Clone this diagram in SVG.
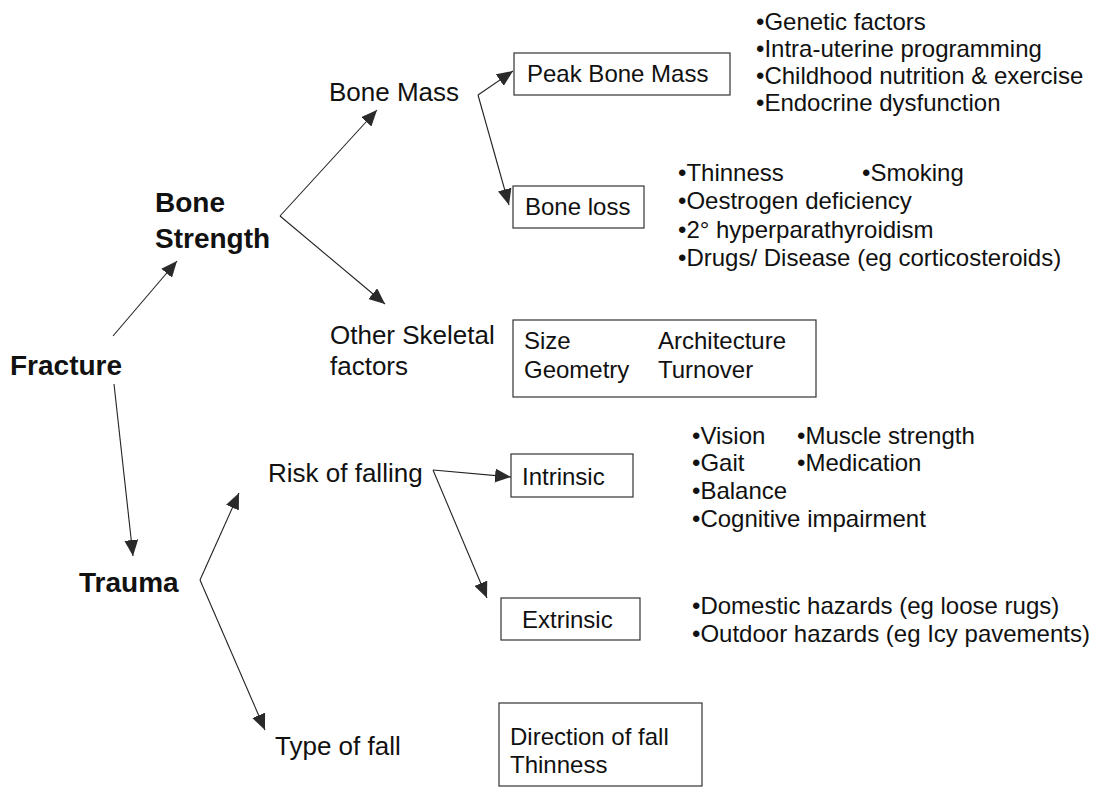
<svg xmlns="http://www.w3.org/2000/svg" width="1098" height="788" viewBox="0 0 1098 788">
  <style>
    text { font-family: "Liberation Sans", Arial, Helvetica, sans-serif; fill: #111; }
    .bold { font-weight: bold; font-size: 28px; }
    .label { font-size: 26px; }
    .box-text { font-size: 24px; }
    .bullet { font-size: 24px; }
    .box { fill: #fff; stroke: #333; stroke-width: 1.2; }
    .conn { stroke: #222; stroke-width: 1.1; fill: none; marker-end: url(#arrow); }
  </style>
  <defs>
    <marker id="arrow" markerUnits="userSpaceOnUse" viewBox="0 0 16 14" refX="16" refY="7" markerWidth="16" markerHeight="14" orient="auto">
      <path d="M0,0 L16,7 L0,14 z" fill="#2a2a2a"/>
    </marker>
  </defs>
  <rect width="1098" height="788" fill="#fff"/>

  <g id="connectors">
    <line class="conn" x1="113" y1="336" x2="177" y2="261"/>
    <line class="conn" x1="114" y1="384" x2="133" y2="556"/>
    <line class="conn" x1="280" y1="216" x2="377" y2="110"/>
    <line class="conn" x1="280" y1="216" x2="385" y2="304"/>
    <line class="conn" x1="478" y1="95" x2="513" y2="71"/>
    <line class="conn" x1="478" y1="95" x2="509" y2="205"/>
    <line class="conn" x1="200" y1="580" x2="239" y2="493"/>
    <line class="conn" x1="200" y1="580" x2="265" y2="730"/>
    <line class="conn" x1="433" y1="470" x2="511" y2="477"/>
    <line class="conn" x1="433" y1="470" x2="487" y2="598"/>
  </g>

  <g id="fracture"><text class="bold" x="10" y="375">Fracture</text></g>
  <g id="bone-strength">
    <text class="bold" x="155" y="212">Bone</text>
    <text class="bold" x="155" y="248">Strength</text>
  </g>
  <g id="trauma"><text class="bold" x="79" y="592">Trauma</text></g>

  <g id="bone-mass"><text class="label" x="329" y="101">Bone Mass</text></g>
  <g id="other-skeletal">
    <text class="label" x="330" y="344">Other Skeletal</text>
    <text class="label" x="330" y="375">factors</text>
  </g>
  <g id="risk-of-falling"><text class="label" x="268" y="482">Risk of falling</text></g>
  <g id="type-of-fall"><text class="label" x="275" y="755">Type of fall</text></g>

  <g id="peak-bone-mass">
    <rect class="box" x="514" y="53" width="216" height="42"/>
    <text class="box-text" x="527" y="82">Peak Bone Mass</text>
  </g>
  <g id="peak-factors">
    <text class="bullet" x="756" y="30">•Genetic factors</text>
    <text class="bullet" x="756" y="57">•Intra-uterine programming</text>
    <text class="bullet" x="756" y="84">•Childhood nutrition &amp; exercise</text>
    <text class="bullet" x="756" y="111">•Endocrine dysfunction</text>
  </g>

  <g id="bone-loss">
    <rect class="box" x="513" y="186" width="131" height="42"/>
    <text class="box-text" x="525" y="215">Bone loss</text>
  </g>
  <g id="bone-loss-factors">
    <text class="bullet" x="678" y="181">•Thinness</text>
    <text class="bullet" x="862" y="181">•Smoking</text>
    <text class="bullet" x="678" y="209">•Oestrogen deficiency</text>
    <text class="bullet" x="678" y="238">•2° hyperparathyroidism</text>
    <text class="bullet" x="678" y="266">•Drugs/ Disease (eg corticosteroids)</text>
  </g>

  <g id="skeletal-factors">
    <rect class="box" x="513" y="320" width="303" height="77"/>
    <text class="box-text" x="524" y="349">Size</text>
    <text class="box-text" x="658" y="349">Architecture</text>
    <text class="box-text" x="524" y="378">Geometry</text>
    <text class="box-text" x="658" y="378">Turnover</text>
  </g>

  <g id="intrinsic">
    <rect class="box" x="511" y="454" width="122" height="43"/>
    <text class="box-text" x="522" y="485">Intrinsic</text>
  </g>
  <g id="intrinsic-factors">
    <text class="bullet" x="692" y="444">•Vision</text>
    <text class="bullet" x="797" y="444">•Muscle strength</text>
    <text class="bullet" x="692" y="471">•Gait</text>
    <text class="bullet" x="797" y="471">•Medication</text>
    <text class="bullet" x="692" y="499">•Balance</text>
    <text class="bullet" x="692" y="527">•Cognitive impairment</text>
  </g>

  <g id="extrinsic">
    <rect class="box" x="501" y="598" width="139" height="42"/>
    <text class="box-text" x="522" y="628">Extrinsic</text>
  </g>
  <g id="extrinsic-factors">
    <text class="bullet" x="692" y="614">•Domestic hazards (eg loose rugs)</text>
    <text class="bullet" x="692" y="642">•Outdoor hazards (eg Icy pavements)</text>
  </g>

  <g id="fall-type-factors">
    <rect class="box" x="499" y="703" width="203" height="83"/>
    <text class="box-text" x="510" y="745">Direction of fall</text>
    <text class="box-text" x="510" y="773">Thinness</text>
  </g>
</svg>
